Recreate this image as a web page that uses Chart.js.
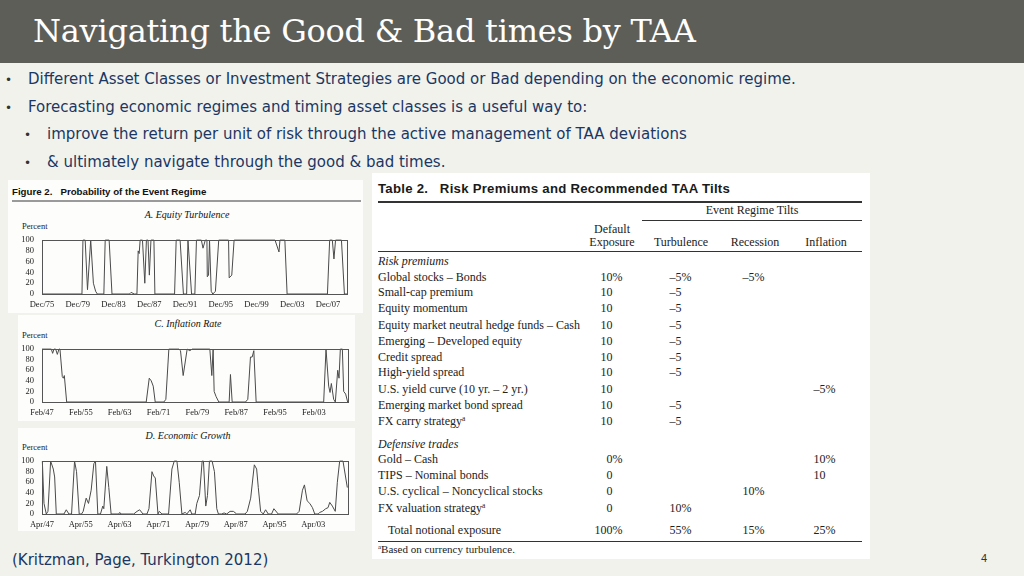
<!DOCTYPE html>
<html>
<head>
<meta charset="utf-8">
<script src="https://cdn.jsdelivr.net/npm/chart.js@4/dist/chart.umd.min.js"></script>
<style>
  html, body { margin: 0; padding: 0; }
  body { width: 1024px; height: 576px; overflow: hidden; background: #f2f2ed; position: relative; font-family: "DejaVu Sans", sans-serif; }
  .abs { position: absolute; white-space: nowrap; }
  #titlebar { position: absolute; left: 0; top: 0; width: 1024px; height: 63px; background: #5e5e59; }
  #titlebar h1 { position: absolute; left: 33px; top: 12px; margin: 0; font: 400 32px "DejaVu Serif", serif; line-height: 38px; color: #fff; letter-spacing: -0.25px; }
  .bullet { font-family: "DejaVu Sans", sans-serif; font-size: 15px; line-height: 20px; color: #1b3763; }
  .dot { font-size: 12px; line-height: 20px; color: #333; }
  .panel { position: absolute; background: #fdfdfc; }
  .fig-head { font: bold 9.7px "Liberation Sans", Arial, sans-serif; color: #111; }
  .fig-title { font: italic 10px "Liberation Serif", serif; color: #111; transform: translateX(-50%); }
  .pct { font: 8.5px "Liberation Serif", serif; color: #222; }
  canvas { position: absolute; }
  .tbl { font: 12px "Liberation Serif", serif; color: #222; line-height: 14px; }
  .rule { position: absolute; background: #333; }
</style>
</head>
<body>
<div id="titlebar"><h1>Navigating the Good &amp; Bad times by TAA</h1></div>

<div class="abs dot" style="left:5px;top:70px">•</div>
<div class="abs bullet" style="left:28px;top:69px">Different Asset Classes or Investment Strategies are Good or Bad depending on the economic regime.</div>
<div class="abs dot" style="left:5px;top:98px">•</div>
<div class="abs bullet" style="left:28px;top:97px">Forecasting economic regimes and timing asset classes is a useful way to:</div>
<div class="abs dot" style="left:24px;top:125px">•</div>
<div class="abs bullet" style="left:47px;top:124px">improve the return per unit of risk through the active management of TAA deviations</div>
<div class="abs dot" style="left:24px;top:153px">•</div>
<div class="abs bullet" style="left:47px;top:152px">&amp; ultimately navigate through the good &amp; bad times.</div>

<!-- Figure panels -->
<div class="panel" style="left:8px;top:180px;width:355px;height:133px"></div>
<div class="panel" style="left:18px;top:315px;width:337px;height:106px"></div>
<div class="panel" style="left:18px;top:428px;width:337px;height:103px"></div>

<div class="abs fig-head" style="left:12px;top:186px">Figure 2.&nbsp;&nbsp; Probability of the Event Regime</div>
<div class="abs" style="left:12px;top:200px;width:349px;height:2px;background:#9a9a9a"></div>

<div class="abs fig-title" style="left:187px;top:209px">A. Equity Turbulence</div>
<div class="abs pct" style="left:22px;top:221px">Percent</div>
<canvas id="chartA" width="340" height="87" style="left:14px;top:227px"></canvas>

<div class="abs fig-title" style="left:188px;top:318px">C. Inflation Rate</div>
<div class="abs pct" style="left:22px;top:330px">Percent</div>
<canvas id="chartC" width="341" height="87" style="left:14px;top:336px"></canvas>

<div class="abs fig-title" style="left:188px;top:430px">D. Economic Growth</div>
<div class="abs pct" style="left:22px;top:442px">Percent</div>
<canvas id="chartD" width="341" height="85" style="left:14px;top:448px"></canvas>

<!-- Table panel -->
<div class="panel" id="tablePanel" style="left:372px;top:173px;width:498px;height:386px;background:#fff"></div>

<div class="abs bullet" style="left:12px;top:550px">(Kritzman, Page, Turkington 2012)</div>
<div class="abs" style="left:981px;top:552px;font:11px 'Liberation Sans',sans-serif;color:#333">4</div>

<script>
// ── Data ─────────────────────────────────────────────────────────────────────
const eqTickYears = [1975.92, 1979.92, 1983.92, 1987.92, 1991.92, 1995.92, 1999.92, 2003.92, 2007.92];
const eqTickLabels = ["Dec/75", "Dec/79", "Dec/83", "Dec/87", "Dec/91", "Dec/95", "Dec/99", "Dec/03", "Dec/07"];
const eqYears = [
  1975.92, 1980.39, 1980.50, 1980.75, 1981.01, 1981.37, 1981.67, 1981.92, 1982.11,
  1982.84, 1982.99, 1983.43, 1983.75, 1985.70, 1985.88, 1986.24,
  1986.54, 1986.68, 1986.79, 1986.90, 1987.16, 1987.42, 1987.60, 1987.78, 1987.93, 1988.11, 1988.44, 1988.55,
  1990.75, 1990.93, 1991.37, 1991.74, 1992.10, 1992.25, 1992.65,
  1993.02, 1993.20, 1993.75, 1993.93, 1994.19, 1994.37, 1994.41, 1994.55, 1994.66, 1994.85, 1995.03, 1995.32, 1995.69,
  1996.79, 1996.86, 1997.15, 1997.41, 2001.99, 2002.43, 2002.54, 2003.09, 2003.34,
  2007.85, 2008.10, 2008.40, 2008.58, 2008.76, 2009.42, 2009.75, 2010.04,
];
const eqValues = [
  0, 0, 100, 100, 8, 100, 20, 5, 0,
  0, 100, 100, 0, 0, 3, 0,
  0, 80, 75, 100, 100, 20, 100, 100, 35, 100, 100, 0,
  0, 100, 100, 0, 0, 100, 0,
  0, 100, 100, 85, 100, 100, 32, 35, 100, 5, 0, 5, 100,
  100, 30, 35, 100, 100, 78, 100, 100, 0,
  0, 100, 100, 65, 100, 100, 0, 0,
];

const inflTickYears = [1947.08, 1955.08, 1963.08, 1971.08, 1979.08, 1987.08, 1995.08, 2003.08];
const inflTickLabels = ["Feb/47", "Feb/55", "Feb/63", "Feb/71", "Feb/79", "Feb/87", "Feb/95", "Feb/03"];
const inflYears = [
  1947.08, 1949.00, 1949.27, 1949.55, 1949.89, 1950.24, 1950.58, 1950.78, 1951.26, 1951.47, 1951.68, 1952.16,
  1968.55, 1969.17, 1969.58, 1969.99, 1970.40, 1972.18, 1972.59, 1973.21,
  1975.27, 1975.61, 1976.16, 1976.98, 1977.53, 1978.01, 1981.65, 1982.06, 1982.33, 1982.54, 1982.95, 1983.50,
  1985.63, 1985.90, 1986.25, 1988.99, 1989.47, 1990.02, 1990.37, 1990.71, 1991.19,
  2005.10, 2005.58, 2006.13, 2006.41, 2006.68, 2007.16, 2007.50, 2007.99, 2008.26, 2008.53, 2008.95, 2009.22, 2009.63, 2010.04,
];
const inflValues = [
  100, 100, 92, 100, 100, 90, 100, 100, 48, 45, 50, 0,
  0, 45, 40, 30, 0, 0, 5, 100,
  100, 97, 50, 100, 97, 100, 100, 50, 100, 20, 10, 0,
  0, 52, 0, 0, 5, 85, 85, 97, 0,
  0, 100, 30, 18, 35, 5, 0, 60, 45, 100, 100, 20, 15, 0,
];

const growthTickYears = [1947.25, 1955.25, 1963.25, 1971.25, 1979.25, 1987.25, 1995.25, 2003.25];
const growthTickLabels = ["Apr/47", "Apr/55", "Apr/63", "Apr/71", "Apr/79", "Apr/87", "Apr/95", "Apr/03"];
const growthYears = [
  1947.32, 1947.66, 1948.14, 1948.48, 1949.03, 1949.58, 1949.86, 1950.20,
  1951.78, 1952.26, 1952.81, 1953.35, 1953.97, 1954.38, 1954.93,
  1955.41, 1955.75, 1956.37, 1956.85, 1957.40, 1957.95, 1958.29, 1958.77, 1959.32, 1959.80, 1960.01, 1960.62, 1961.04, 1961.52,
  1963.09, 1963.30, 1963.57, 1966.18, 1966.87, 1967.41, 1968.10, 1968.92, 1969.33, 1969.95, 1970.30, 1970.64, 1971.19, 1971.46, 1972.01,
  1973.38, 1974.07, 1974.55, 1975.10, 1975.58, 1976.13, 1976.81, 1977.15, 1977.84, 1978.18, 1978.87, 1979.21, 1979.76,
  1980.31, 1980.58, 1981.06, 1981.41, 1981.82, 1982.37, 1982.85, 1983.33, 1983.67,
  1984.36, 1984.84, 1985.38, 1986.07, 1986.76, 1987.44, 1989.16, 1989.64, 1990.33, 1991.08, 1991.56, 1991.90, 1992.38,
  1992.93, 1993.41, 1993.96, 1994.64, 1995.12, 1996.02, 1999.79, 2000.34, 2001.02, 2001.43, 2001.98, 2002.53, 2003.08, 2003.56,
  2004.25, 2004.59, 2005.14, 2005.82, 2006.30, 2006.65, 2007.19, 2007.79, 2008.22, 2008.70, 2009.39, 2010.28,
];
const growthValues = [
  100, 20, 0, 5, 100, 85, 70, 0,
  0, 8, 0, 0, 100, 80, 0,
  0, 5, 30, 20, 45, 95, 100, 0, 0, 15, 10, 90, 50, 0,
  0, 3, 0, 0, 5, 8, 0, 0, 10, 80, 72, 68, 0, 5, 0,
  0, 85, 100, 100, 60, 0, 3, 0, 8, 0, 0, 20, 35,
  100, 100, 15, 35, 100, 100, 80, 10, 0,
  0, 2, 0, 5, 5, 0, 0, 5, 30, 93, 85, 50, 5,
  0, 8, 0, 0, 10, 0, 0, 5, 45, 55, 25, 20, 12, 0,
  0, 3, 5, 10, 12, 22, 15, 5, 60, 100, 100, 50,
];

// Table rows: label, default exposure, turbulence, recession, inflation
const riskPremiumRows = [
  ["Global stocks – Bonds", "10%", "–5%", "–5%", ""],
  ["Small-cap premium", "10", "–5", "", ""],
  ["Equity momentum", "10", "–5", "", ""],
  ["Equity market neutral hedge funds – Cash", "10", "–5", "", ""],
  ["Emerging – Developed equity", "10", "–5", "", ""],
  ["Credit spread", "10", "–5", "", ""],
  ["High-yield spread", "10", "–5", "", ""],
  ["U.S. yield curve (10 yr. – 2 yr.)", "10", "", "", "–5%"],
  ["Emerging market bond spread", "10", "–5", "", ""],
  ["FX carry strategy^a", "10", "–5", "", ""],
];
const defensiveRows = [
  ["Gold – Cash", "0%", "", "", "10%"],
  ["TIPS – Nominal bonds", "0", "", "", "10"],
  ["U.S. cyclical – Noncyclical stocks", "0", "", "10%", ""],
  ["FX valuation strategy^a", "0", "10%", "", ""],
];
const totalRow = ["Total notional exposure", "100%", "55%", "15%", "25%"];

// ── Table ────────────────────────────────────────────────────────────────────
const COL_RIGHT = [612.5, 681.5, 754.5, 825.5];

function addText(html, x, cy, cls, extra) {
  const el = document.createElement("div");
  el.className = "abs " + cls;
  el.style.left = x + "px";
  el.style.top = (cy - 7) + "px";
  if (extra) el.style.cssText += extra;
  el.innerHTML = html;
  document.body.appendChild(el);
  return el;
}

function addRule(x1, x2, y, h) {
  const el = document.createElement("div");
  el.className = "rule";
  el.style.left = x1 + "px";
  el.style.top = y + "px";
  el.style.width = (x2 - x1) + "px";
  el.style.height = h + "px";
  document.body.appendChild(el);
}

function labelHtml(s) {
  return s.replace("^a", '<sup style="font-size:7.5px;vertical-align:4px;line-height:0">a</sup>');
}

function addValue(v, col, cy) {
  if (!v) return;
  const digits = v.replace("%", "");
  const pct = v.endsWith("%");
  const el = addText(digits + (pct ? '<span style="position:absolute;left:100%">%</span>' : ""), 0, cy, "tbl");
  el.style.left = "auto";
  el.style.right = (1024 - COL_RIGHT[col]) + "px";
}

function addRow(row, cy, indent) {
  addText(labelHtml(row[0]), 378 + (indent || 0), cy, "tbl");
  for (let i = 1; i < 5; i++) addValue(row[i], i - 1, cy);
}

addText("Table 2.&nbsp;&nbsp; Risk Premiums and Recommended TAA Tilts", 378, 189, "",
  "font:bold 13.2px 'Liberation Sans',Arial,sans-serif;color:#1a1a1a;line-height:14px;letter-spacing:0.25px");
addRule(378, 862, 201, 1.5);
addText("Event Regime Tilts", 752, 210, "tbl", "transform:translateX(-50%)");
addRule(642, 862, 219.5, 1.3);
addText("Default", 612, 229, "tbl", "transform:translateX(-50%)");
addText("Exposure", 612, 242, "tbl", "transform:translateX(-50%)");
addText("Turbulence", 681, 242, "tbl", "transform:translateX(-50%)");
addText("Recession", 755, 242, "tbl", "transform:translateX(-50%)");
addText("Inflation", 826, 242, "tbl", "transform:translateX(-50%)");
addRule(378, 862, 251, 1.3);

addText("Risk premiums", 378, 261, "tbl", "font-style:italic");
const rpY = [277, 292, 308, 325, 341, 357, 372, 389, 405, 421];
riskPremiumRows.forEach((r, i) => addRow(r, rpY[i]));
addText("Defensive trades", 378, 444, "tbl", "font-style:italic");
const dfY = [459, 475, 491, 508];
defensiveRows.forEach((r, i) => addRow(r, dfY[i]));
addRow(totalRow, 530, 10);
addRule(378, 862, 540.5, 1.3);
addText('<sup style="font-size:7px;vertical-align:4px;line-height:0">a</sup>Based on currency turbulence.', 378, 549, "tbl", "font-size:11px");

// ── Charts ───────────────────────────────────────────────────────────────────
const frame = {
  id: "frame",
  afterDatasetsDraw(chart) {
    const { ctx, chartArea: a } = chart;
    ctx.save();
    ctx.strokeStyle = "#555";
    ctx.lineWidth = 1;
    ctx.strokeRect(Math.round(a.left) + 0.5, Math.round(a.top) + 0.5, Math.round(a.width), Math.round(a.height));
    ctx.restore();
  },
};

function makeChart(id, years, values, tickYears, tickLabels, min, max, pad, xHeight) {
  const tickFont = { family: "Liberation Serif", size: 8.5 };
  return new Chart(document.getElementById(id), {
    type: "line",
    data: {
      datasets: [{
        data: years.map((x, i) => ({ x, y: values[i] })),
        borderColor: "#4a4a4a",
        borderWidth: 1,
        pointRadius: 0,
        tension: 0,
        clip: false,
      }],
    },
    options: {
      responsive: false,
      animation: false,
      layout: { padding: pad },
      plugins: { legend: { display: false }, tooltip: { enabled: false } },
      scales: {
        x: {
          type: "linear",
          min, max,
          grid: { display: false, drawTicks: false },
          border: { display: false },
          afterBuildTicks: (axis) => { axis.ticks = tickYears.map((v) => ({ value: v })); },
          afterFit: (axis) => { axis.height = xHeight; },
          ticks: {
            autoSkip: false, maxRotation: 0, padding: 6, color: "#222", font: tickFont,
            callback: (v, i) => tickLabels[i],
          },
        },
        y: {
          min: 0, max: 100,
          grid: { display: false, drawTicks: false },
          border: { display: false },
          afterFit: (axis) => { axis.width = 28; },
          ticks: { autoSkip: false, stepSize: 20, padding: 8, color: "#222", font: tickFont },
        },
      },
    },
    plugins: [frame],
  });
}

makeChart("chartA", eqYears, eqValues, eqTickYears, eqTickLabels, 1975.92, 2010.04,
  { top: 0, right: 7, left: 0, bottom: 0 }, 20);
makeChart("chartC", inflYears, inflValues, inflTickYears, inflTickLabels, 1947.08, 2010.11,
  { top: 0, right: 7, left: 0, bottom: 0 }, 21);
makeChart("chartD", growthYears, growthValues, growthTickYears, growthTickLabels, 1947.25, 2010.42,
  { top: 0, right: 7, left: 0, bottom: 0 }, 19);
</script>
</body>
</html>
